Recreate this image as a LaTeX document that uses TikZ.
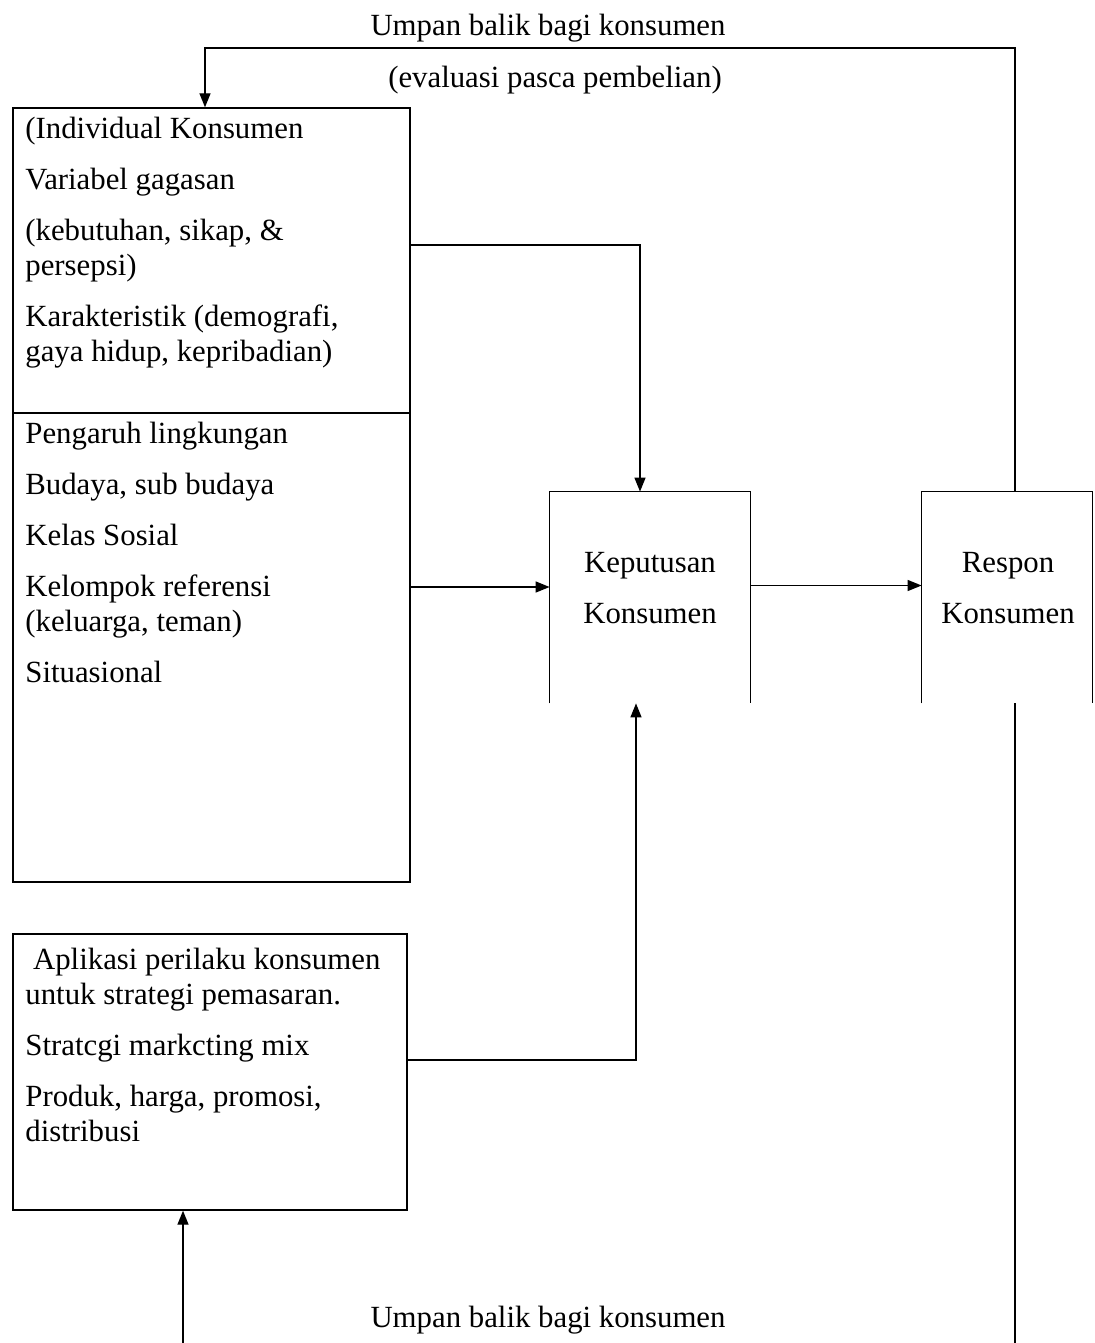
\documentclass[tikz,border=0pt]{standalone}
\usepackage{fontspec}
\setmainfont{Liberation Serif}
\usetikzlibrary{arrows.meta,fit}

\tikzset{
  box/.style={draw, line width=0.7pt, inner sep=0pt},
  txt/.style={anchor=north west, align=left, inner sep=0pt, font=\fontsize{15.4}{17.5}\selectfont},
  lbl/.style={inner sep=0pt, font=\fontsize{15.4}{17.5}\selectfont},
  arr/.style={-{Triangle[length=7pt,width=5.5pt]}, line width=0.7pt},
  ln/.style={line width=0.7pt},
}

\begin{document}
\begin{tikzpicture}[x=0.5pt,y=-0.5pt]
    \useasboundingbox (0,0) rectangle (1094,1343);
    % boxes
    \node[box, fit={(13,108) (410,882)}] (ind) {};
    \draw[ln] (13,413) -- (410,413);
    \node[inner sep=0pt, fit={(550,492) (750,703)}] (kep) {};
    \draw[ln] (kep.south west) -- (kep.north west) -- (kep.north east) -- (kep.south east);
    \node[inner sep=0pt, fit={(922,492) (1092,703)}] (res) {};
    \draw[ln] (res.south west) -- (res.north west) -- (res.north east) -- (res.south east);
    \node[box, fit={(13,934) (407,1210)}] (apl) {};
    % texts
    \node[txt] (indtxt) at (25,117) {(Individual Konsumen\\[8pt]
        Variabel gagasan\\[8pt]
        (kebutuhan, sikap, \&\\
        persepsi)\\[8pt]
        Karakteristik (demografi,\\
        gaya hidup, kepribadian)};
    \node[txt] (lingtxt) at (25,422) {Pengaruh lingkungan\\[8pt]
        Budaya, sub budaya\\[8pt]
        Kelas Sosial\\[8pt]
        Kelompok referensi\\
        (keluarga, teman)\\[8pt]
        Situasional};
    \node[txt] (apltxt) at (25,948) {\ Aplikasi perilaku konsumen\\
        untuk strategi pemasaran.\\[8pt]
        Stratcgi markcting mix\\[8pt]
        Produk, harga, promosi,\\
        distribusi};
    \node[lbl, align=center] (keptxt) at (650,588) {Keputusan\\[8pt]Konsumen};
    \node[lbl, align=center] (restxt) at (1008,588) {Respon\\[8pt]Konsumen};
    \node[lbl] (fbtop) at (548,28) {Umpan balik bagi konsumen};
    \node[lbl] (evtxt) at (555,80) {(evaluasi pasca pembelian)};
    \node[lbl] (fbbot) at (548,1320) {Umpan balik bagi konsumen};
    % connectors
    \coordinate (fbR) at (1015,48);
    \coordinate (fbL) at (205,48);
    \draw[arr] (fbR |- res.north) -- (fbR) -- (fbL) -- (fbL |- ind.north);
    \coordinate (o1) at (410,245);
    \draw[arr] (o1) -| ([xshift=-5pt]kep.north);
    \coordinate (o2) at (410,587);
    \draw[arr] (o2) -- (o2 -| kep.west);
    \draw[arr] ([yshift=6pt]kep.east) -- ([yshift=6pt]res.west);
    \coordinate (o4) at (407,1060);
    \draw[arr] (o4) -| ([xshift=-7pt]kep.south);
    \coordinate (b1) at (1015,1343);
    \draw[ln] (b1 |- res.south) -- (b1);
    \coordinate (b2) at (183,1343);
    \draw[arr] (b2) -- (b2 |- apl.south);
\end{tikzpicture}
\end{document}
